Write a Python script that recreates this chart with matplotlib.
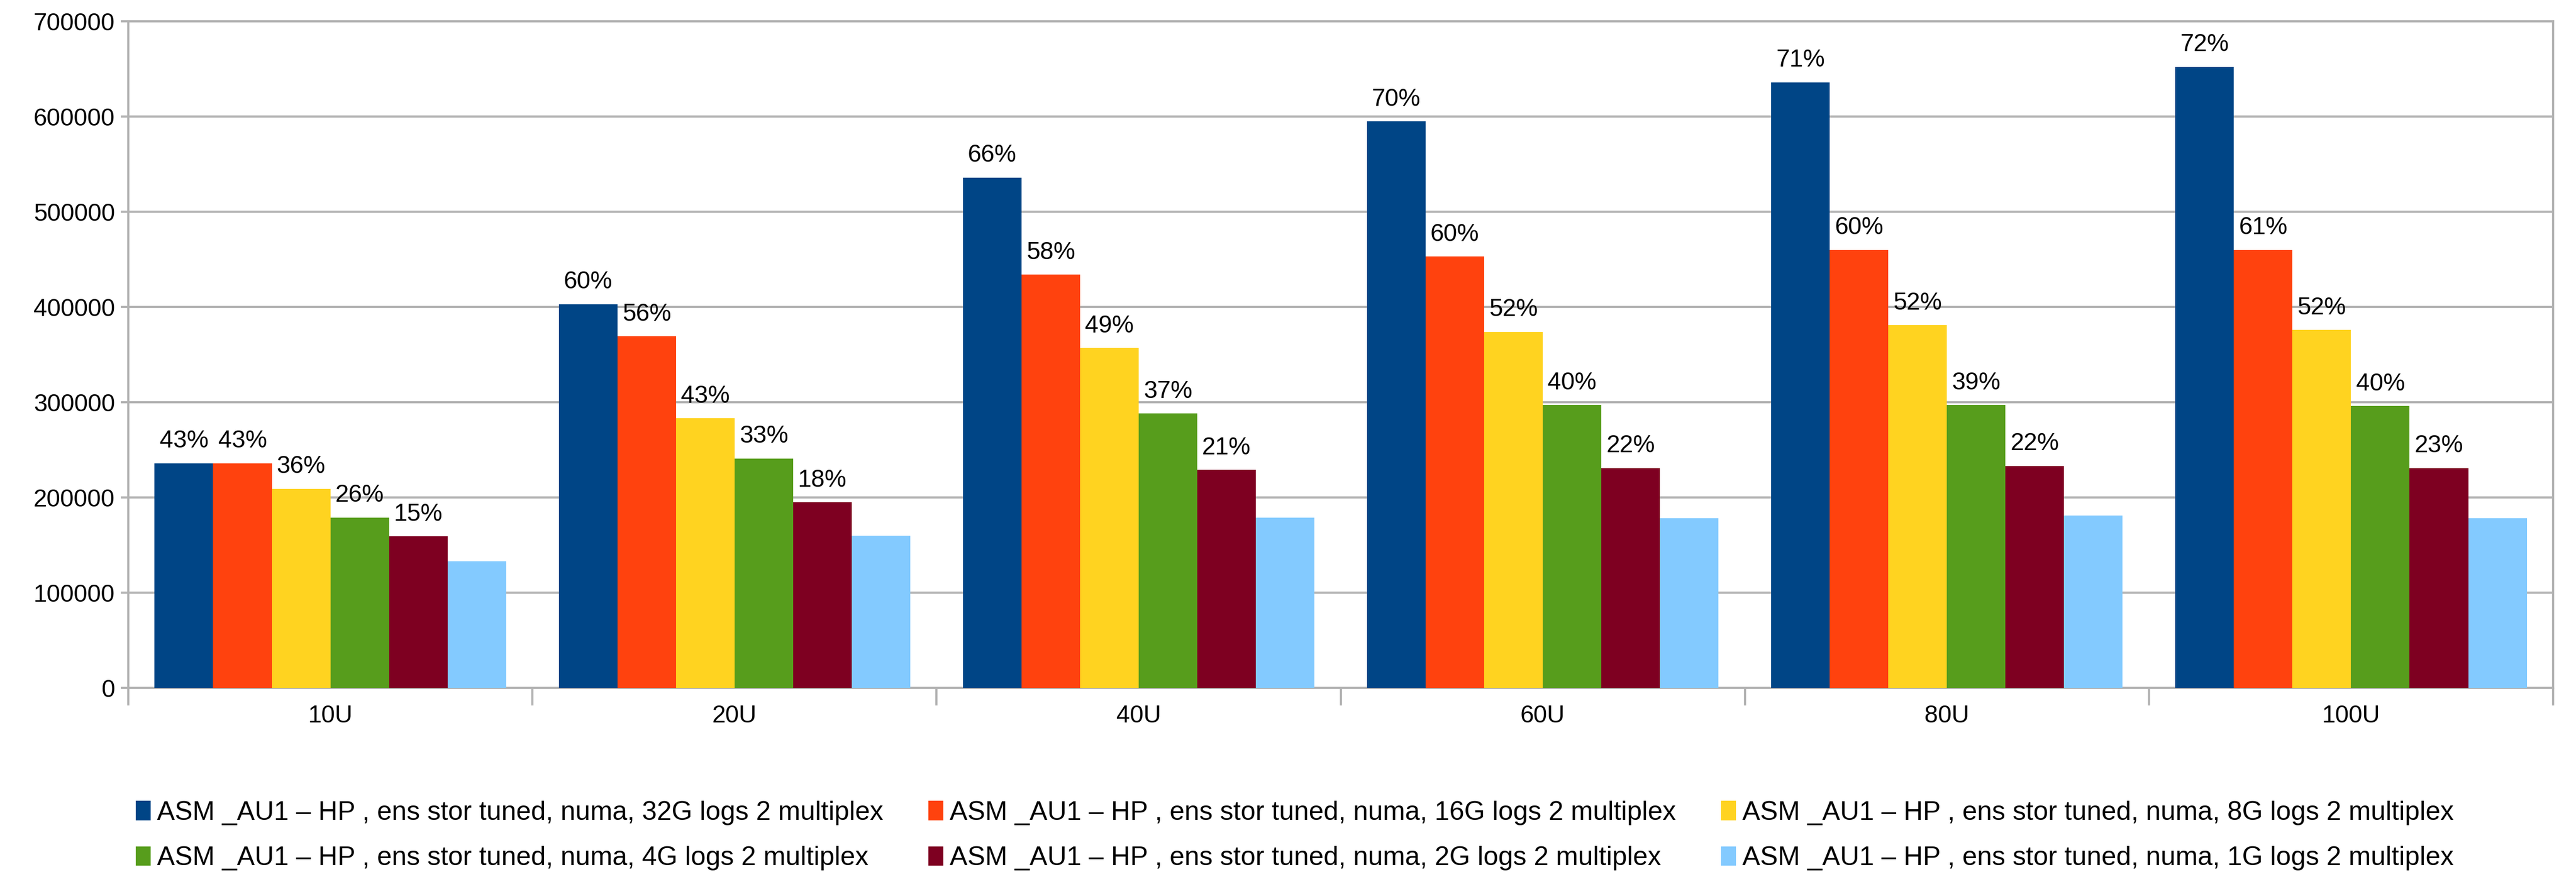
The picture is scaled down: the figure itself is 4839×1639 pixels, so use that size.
import matplotlib
matplotlib.use("Agg")
import matplotlib.pyplot as plt
import numpy as np

plt.rcParams['font.family'] = ['Liberation Sans', 'DejaVu Sans']

categories = ["10U", "20U", "40U", "60U", "80U", "100U"]

series_names = [
    "ASM _AU1 \u2013 HP , ens stor tuned, numa, 32G logs 2 multiplex",
    "ASM _AU1 \u2013 HP , ens stor tuned, numa, 16G logs 2 multiplex",
    "ASM _AU1 \u2013 HP , ens stor tuned, numa, 8G logs 2 multiplex",
    "ASM _AU1 \u2013 HP , ens stor tuned, numa, 4G logs 2 multiplex",
    "ASM _AU1 \u2013 HP , ens stor tuned, numa, 2G logs 2 multiplex",
    "ASM _AU1 \u2013 HP , ens stor tuned, numa, 1G logs 2 multiplex",
]

logs_32g = [236000, 403000, 536000, 595000, 636000, 652000]
logs_16g = [236000, 369000, 434000, 453000, 460000, 460000]
logs_8g = [209000, 283000, 357000, 374000, 381000, 376000]
logs_4g = [179000, 241000, 288000, 297000, 297000, 296000]
logs_2g = [159000, 195000, 229000, 231000, 233000, 231000]
logs_1g = [133000, 160000, 179000, 178000, 181000, 178000]

pct_32g = ["43%", "60%", "66%", "70%", "71%", "72%"]
pct_16g = ["43%", "56%", "58%", "60%", "60%", "61%"]
pct_8g = ["36%", "43%", "49%", "52%", "52%", "52%"]
pct_4g = ["26%", "33%", "37%", "40%", "39%", "40%"]
pct_2g = ["15%", "18%", "21%", "22%", "22%", "23%"]

series_values = [logs_32g, logs_16g, logs_8g, logs_4g, logs_2g, logs_1g]
series_labels = [pct_32g, pct_16g, pct_8g, pct_4g, pct_2g, None]
colors = ["#004586", "#ff420e", "#ffd320", "#579d1c", "#7e0021", "#83caff"]

W, H = 4839, 1639
fig = plt.figure(figsize=(W / 100, H / 100), dpi=100)
ax = fig.add_axes([241 / W, 1 - 1293 / H, (4796 - 241) / W, (1293 - 40) / H])

grid_color = "#b3b3b3"
fs = 33
x = np.arange(len(categories))
bw = 0.145
offsets = (np.arange(6) - 2.5) * bw

handles = []
for vals, labs, col, off, name in zip(series_values, series_labels, colors, offsets, series_names):
    bars = ax.bar(x + off, vals, width=bw, color=col, label=name, zorder=3, linewidth=0)
    handles.append(bars)
    if labs is not None:
        for b, lab in zip(bars, labs):
            ax.annotate(lab, (b.get_x() + b.get_width() / 2, b.get_height()),
                        xytext=(0, 14), textcoords="offset points",
                        ha="center", va="bottom", fontsize=fs, color="black", zorder=4)

ax.set_xlim(-0.5, len(categories) - 0.5)
ax.set_ylim(0, 700000)
ax.set_yticks(np.arange(0, 700001, 100000))
ax.set_yticklabels([str(v) for v in range(0, 700001, 100000)])
ax.yaxis.grid(True, color=grid_color, linewidth=3, zorder=0)
ax.set_axisbelow(True)

ax.set_xticks(x)
ax.set_xticklabels(categories)
ax.set_xticks(np.arange(-0.5, len(categories), 1.0), minor=True)
ax.tick_params(axis="x", which="major", length=0, labelsize=fs, pad=22)
ax.tick_params(axis="x", which="minor", length=24, width=3, color=grid_color)
ax.tick_params(axis="y", which="major", length=10, width=3, color=grid_color, labelsize=fs, pad=8)

for side in ["left", "right", "bottom", "top"]:
    ax.spines[side].set_color(grid_color)
    ax.spines[side].set_linewidth(3)

# legend fills column by column; reorder so entries read row by row
order = [0, 3, 1, 4, 2, 5]
leg = fig.legend([handles[i] for i in order], [series_names[i] for i in order],
                 loc="upper left", bbox_to_anchor=(255 / W, 1 - 1505 / H), ncol=3,
                 frameon=False, fontsize=36, handlelength=0.55, handleheight=0.75,
                 handletextpad=0.25, columnspacing=1.7, labelspacing=0.79,
                 borderpad=0, borderaxespad=0)

fig.savefig("out.png", dpi=100, facecolor="white")
